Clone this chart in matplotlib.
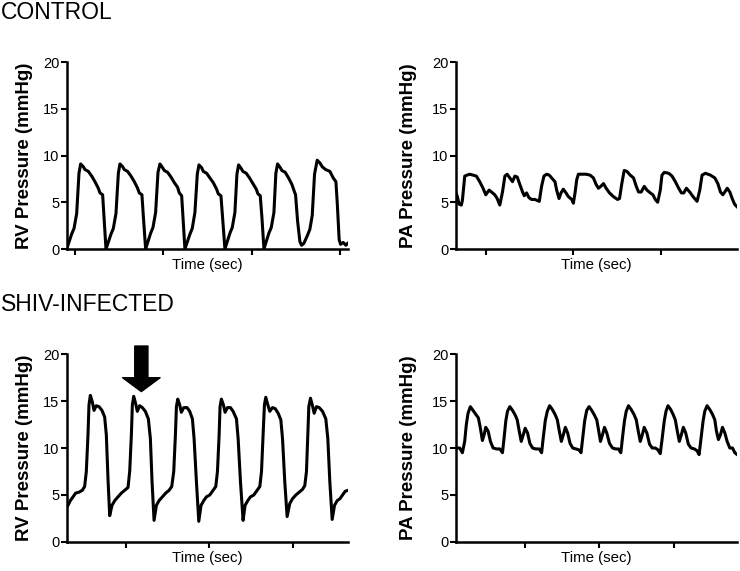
import matplotlib
matplotlib.use('Agg')
import matplotlib.pyplot as plt

plt.rcParams['font.family'] = ['Liberation Sans', 'DejaVu Sans']

# ---- traced values (time in sec, pressure in mmHg) ----
# control, RV
rv_ctrl_t = [0.906, 0.962, 0.989, 1.019, 1.045, 1.064, 1.094, 1.113, 1.151, 1.189, 1.226, 1.264, 1.283, 1.313, 1.328, 1.351,
             1.408, 1.434, 1.464, 1.491, 1.509, 1.540, 1.558, 1.596, 1.634, 1.672, 1.709, 1.728, 1.758, 1.774, 1.800,
             1.857, 1.883, 1.913, 1.940, 1.962, 1.992, 2.011, 2.049, 2.087, 2.125, 2.162, 2.181, 2.208, 2.223, 2.245,
             2.302, 2.328, 2.358, 2.385, 2.404, 2.434, 2.453, 2.491, 2.528, 2.566, 2.604, 2.623, 2.653, 2.672, 2.698,
             2.755, 2.781, 2.811, 2.834, 2.853, 2.883, 2.902, 2.940, 2.977, 3.015, 3.053, 3.072, 3.098, 3.117, 3.140,
             3.196, 3.223, 3.253, 3.275, 3.294, 3.325, 3.343, 3.381, 3.419, 3.457, 3.479, 3.498, 3.521, 3.547, 3.566, 3.592,
             3.630, 3.660, 3.687, 3.713, 3.743, 3.774, 3.800, 3.838, 3.887, 3.925, 3.955, 3.970, 3.992, 4.008, 4.038, 4.068, 4.087]
rv_ctrl_p = [0.0, 1.6, 2.2, 3.8, 8.1, 9.1, 8.8, 8.5, 8.3, 7.8, 7.2, 6.5, 6.0, 5.8, 3.5, 0.0,
             1.6, 2.2, 3.8, 8.1, 9.1, 8.8, 8.5, 8.3, 7.8, 7.2, 6.5, 6.0, 5.8, 3.5, 0.0,
             1.7, 2.3, 3.9, 8.2, 9.1, 8.7, 8.4, 8.2, 7.7, 7.1, 6.6, 6.0, 5.7, 3.4, 0.0,
             1.6, 2.2, 3.9, 8.0, 9.0, 8.7, 8.3, 8.1, 7.6, 7.1, 6.4, 5.9, 5.7, 3.3, 0.0,
             1.7, 2.3, 3.9, 8.0, 9.0, 8.6, 8.3, 8.1, 7.6, 7.0, 6.4, 5.9, 5.7, 3.4, 0.0,
             1.7, 2.3, 3.9, 8.1, 9.1, 8.7, 8.4, 8.2, 7.6, 6.9, 6.3, 5.8, 3.0, 0.8, 0.4, 0.6,
             1.4, 2.1, 3.6, 8.0, 9.5, 9.2, 8.8, 8.5, 8.3, 7.6, 7.2, 5.0, 1.0, 0.5, 0.7, 0.4, 0.6]

# control, PA
pa_ctrl_t = [0.660, 0.676, 0.695, 0.721, 0.733, 0.760, 0.786, 0.817, 0.855, 0.893, 0.931, 0.969, 1.000, 1.015, 1.038,
             1.065, 1.103, 1.130, 1.160, 1.191, 1.218, 1.244, 1.275, 1.305, 1.332, 1.359, 1.389, 1.420, 1.439, 1.466,
             1.492, 1.523, 1.561, 1.611, 1.637, 1.664, 1.695, 1.725, 1.752, 1.790, 1.809, 1.836, 1.859, 1.885, 1.916,
             1.943, 1.981, 2.000, 2.019, 2.038, 2.057, 2.095, 2.145, 2.191, 2.229, 2.260, 2.286, 2.313, 2.344, 2.374,
             2.412, 2.458, 2.504, 2.527, 2.553, 2.580, 2.611, 2.649, 2.687, 2.718, 2.744, 2.775, 2.809, 2.840, 2.878,
             2.908, 2.935, 2.962, 2.992, 3.011, 3.038, 3.088, 3.126, 3.164, 3.202, 3.233, 3.260, 3.290, 3.328, 3.366,
             3.412, 3.443, 3.469, 3.508, 3.565, 3.615, 3.649, 3.679, 3.706, 3.729, 3.756, 3.786, 3.813, 3.840, 3.870]
pa_ctrl_p = [6.0, 5.6, 4.8, 4.7, 5.2, 7.8, 7.9, 8.0, 7.9, 7.8, 7.2, 6.5, 5.8, 6.0, 6.3,
             6.1, 5.8, 5.4, 4.7, 6.1, 7.8, 8.0, 7.6, 7.2, 7.8, 7.7, 6.9, 6.1, 5.7, 6.0,
             5.5, 5.3, 5.3, 5.1, 6.7, 7.8, 8.0, 7.9, 7.6, 7.2, 6.3, 5.4, 6.0, 6.4, 6.0,
             5.6, 5.3, 4.9, 6.0, 7.4, 8.0, 8.0, 8.0, 7.9, 7.6, 6.9, 6.5, 6.7, 7.0, 6.5,
             6.0, 5.6, 5.3, 5.4, 7.0, 8.4, 8.3, 7.9, 7.6, 6.7, 6.1, 6.1, 6.7, 6.3, 6.0,
             5.8, 5.3, 5.0, 6.3, 7.9, 8.2, 8.1, 7.8, 7.2, 6.5, 6.0, 6.0, 6.5, 6.1, 5.6,
             5.1, 6.3, 7.9, 8.1, 7.9, 7.6, 7.0, 6.1, 5.8, 6.1, 6.5, 6.1, 5.4, 4.8, 4.5]

# SHIV-infected, RV
rv_shiv_t = [0.311, 0.339, 0.371, 0.402, 0.442, 0.482, 0.510, 0.530, 0.550, 0.562, 0.578, 0.602, 0.622, 0.649, 0.681,
             0.717, 0.749, 0.769, 0.789, 0.809, 0.837, 0.869, 0.908, 0.948, 0.988, 1.028, 1.048, 1.068, 1.080, 1.096,
             1.120, 1.139, 1.167, 1.199, 1.235, 1.271, 1.295, 1.315, 1.339, 1.367, 1.398, 1.438, 1.478, 1.518, 1.550,
             1.574, 1.594, 1.606, 1.622, 1.645, 1.665, 1.693, 1.733, 1.765, 1.797, 1.817, 1.845, 1.873, 1.900, 1.932,
             1.964, 2.004, 2.044, 2.076, 2.096, 2.116, 2.127, 2.143, 2.167, 2.187, 2.215, 2.251, 2.283, 2.323, 2.343,
             2.371, 2.402, 2.426, 2.458, 2.490, 2.530, 2.570, 2.602, 2.622, 2.641, 2.657, 2.673, 2.697, 2.721, 2.753,
             2.785, 2.821, 2.853, 2.873, 2.900, 2.928, 2.960, 2.992, 3.032, 3.072, 3.112, 3.139, 3.159, 3.175, 3.187,
             3.207, 3.231, 3.251, 3.279, 3.311, 3.351, 3.390, 3.414, 3.438, 3.466, 3.494, 3.526, 3.558, 3.590, 3.622, 3.657]
rv_shiv_p = [3.9, 4.4, 4.8, 5.2, 5.3, 5.5, 5.9, 7.5, 11.4, 14.6, 15.6, 14.9, 14.0, 14.5, 14.4,
             14.0, 13.3, 11.4, 6.7, 2.8, 3.9, 4.4, 4.8, 5.2, 5.5, 5.8, 7.5, 11.4, 14.6, 15.5,
             14.7, 13.9, 14.5, 14.3, 13.9, 13.1, 11.0, 6.4, 2.3, 3.9, 4.4, 4.8, 5.2, 5.5, 5.9,
             7.5, 11.4, 14.4, 15.2, 14.6, 13.8, 14.3, 14.3, 13.9, 13.1, 11.0, 6.4, 2.2, 3.9, 4.4,
             4.8, 5.0, 5.5, 5.9, 7.5, 11.4, 14.4, 15.2, 14.6, 13.8, 14.3, 14.3, 13.9, 13.1, 11.0,
             6.4, 2.3, 3.9, 4.4, 4.8, 5.0, 5.5, 5.9, 7.5, 11.4, 14.6, 15.4, 14.6, 13.9, 14.3,
             14.2, 13.7, 13.0, 11.0, 6.4, 2.7, 4.1, 4.6, 5.0, 5.3, 5.6, 6.0, 7.5, 11.4, 14.4,
             15.3, 14.5, 13.7, 14.4, 14.3, 13.9, 13.1, 11.0, 6.4, 2.4, 3.9, 4.4, 4.6, 5.0, 5.4, 5.5]

# SHIV-infected, PA
pa_shiv_t = [0.074, 0.124, 0.160, 0.191, 0.213, 0.236, 0.267, 0.303, 0.339, 0.375, 0.402, 0.429, 0.452, 0.474, 0.506,
             0.537, 0.573, 0.618, 0.663, 0.699, 0.721, 0.744, 0.766, 0.798, 0.834, 0.870, 0.897, 0.924, 0.951, 0.978,
             1.004, 1.036, 1.067, 1.103, 1.148, 1.193, 1.225, 1.247, 1.274, 1.301, 1.333, 1.369, 1.404, 1.436, 1.463,
             1.490, 1.517, 1.544, 1.575, 1.607, 1.643, 1.688, 1.728, 1.755, 1.778, 1.804, 1.831, 1.863, 1.899, 1.935,
             1.966, 1.993, 2.016, 2.043, 2.070, 2.101, 2.137, 2.178, 2.222, 2.258, 2.290, 2.312, 2.339, 2.362, 2.393,
             2.429, 2.465, 2.497, 2.524, 2.551, 2.578, 2.604, 2.640, 2.676, 2.712, 2.753, 2.789, 2.820, 2.847, 2.874,
             2.897, 2.924, 2.960, 2.991, 3.022, 3.049, 3.076, 3.103, 3.130, 3.162, 3.198, 3.234, 3.279, 3.315, 3.342,
             3.369, 3.396, 3.418, 3.449, 3.485, 3.521, 3.553, 3.575, 3.602, 3.629, 3.656, 3.688, 3.719, 3.755, 3.791,
             3.822, 3.854]
pa_shiv_p = [10.0, 10.0, 9.5, 10.7, 12.5, 13.7, 14.4, 14.0, 13.6, 13.2, 12.1, 10.8, 11.4, 12.2, 11.8,
             10.7, 10.0, 9.9, 9.9, 9.5, 11.1, 12.9, 13.9, 14.4, 14.0, 13.5, 13.0, 11.8, 10.7, 11.4,
             12.1, 11.6, 10.5, 10.0, 9.9, 9.9, 9.5, 11.1, 12.9, 13.9, 14.5, 14.1, 13.6, 13.0, 11.8,
             10.7, 11.4, 12.2, 11.6, 10.5, 10.0, 9.9, 9.8, 9.5, 11.1, 12.9, 14.0, 14.4, 14.0, 13.5,
             13.0, 11.8, 10.7, 11.4, 12.2, 11.6, 10.5, 10.0, 9.9, 9.9, 9.5, 11.1, 12.9, 13.9, 14.5,
             14.1, 13.6, 13.0, 11.8, 10.7, 11.4, 12.2, 11.6, 10.4, 10.0, 10.0, 9.8, 9.4, 11.1, 12.9,
             13.9, 14.5, 14.1, 13.6, 13.0, 11.8, 10.7, 11.4, 12.2, 11.6, 10.4, 10.0, 9.9, 9.7, 9.3,
             11.1, 12.9, 13.9, 14.5, 14.1, 13.6, 13.0, 11.8, 10.9, 11.4, 12.2, 11.6, 10.7, 10.0, 10.0,
             9.5, 9.3]

y_ticks = [0, 5, 10, 15, 20]
x_label = 'Time (sec)'

panels = [
    # (rect, t, p, ylabel, xlim, xticks, ylabel_x)
    ([0.0905, 0.5639, 0.380, 0.3275], rv_ctrl_t, rv_ctrl_p, 'RV Pressure (mmHg)', (0.909, 4.094), [1, 2, 3, 4], -0.12),
    ([0.6162, 0.5639, 0.380, 0.3275], pa_ctrl_t, pa_ctrl_p, 'PA Pressure (mmHg)', (0.660, 3.870), [1, 2, 3], -0.14),
    ([0.0905, 0.0508, 0.380, 0.3292], rv_shiv_t, rv_shiv_p, 'RV Pressure (mmHg)', (0.299, 3.657), [1, 2, 3], -0.12),
    ([0.6162, 0.0508, 0.380, 0.3292], pa_shiv_t, pa_shiv_p, 'PA Pressure (mmHg)', (0.074, 3.854), [1, 2, 3], -0.14),
]

fig = plt.figure(figsize=(7.40, 5.71), dpi=100)
axes = []
for rect, t, p, ylab, xlim, xt, lx in panels:
    ax = fig.add_axes(rect)
    ax.plot(t, p, color='black', lw=2.2, solid_joinstyle='round')
    ax.set_xlim(*xlim)
    ax.set_ylim(0, 20)
    ax.set_yticks(y_ticks)
    ax.set_xticks(xt)
    ax.set_xticklabels([])
    for s in ['top', 'right']:
        ax.spines[s].set_visible(False)
    for s in ['left', 'bottom']:
        ax.spines[s].set_linewidth(1.8)
    ax.tick_params(axis='both', direction='out', width=1.5, length=4.5, labelsize=10.5, pad=1)
    ax.set_ylabel(ylab, fontsize=13.5, fontweight='bold')
    ax.yaxis.set_label_coords(lx, 0.5)
    ax.set_xlabel(x_label, fontsize=10.8)
    ax.xaxis.set_label_coords(0.5, -0.05)
    axes.append(ax)

# arrow marking the RV peak
axes[2].annotate('', xy=(1.187, 16.0), xytext=(1.187, 20.85), annotation_clip=False,
                 arrowprops=dict(facecolor='black', edgecolor='black', width=9.5,
                                 headwidth=27, headlength=10, shrink=0))

fig.text(0.001, 0.9667, 'CONTROL', fontsize=16.5, va='baseline', ha='left')
fig.text(0.001, 0.4553, 'SHIV-INFECTED', fontsize=16.5, va='baseline', ha='left')

fig.savefig('out.png', dpi=100)
